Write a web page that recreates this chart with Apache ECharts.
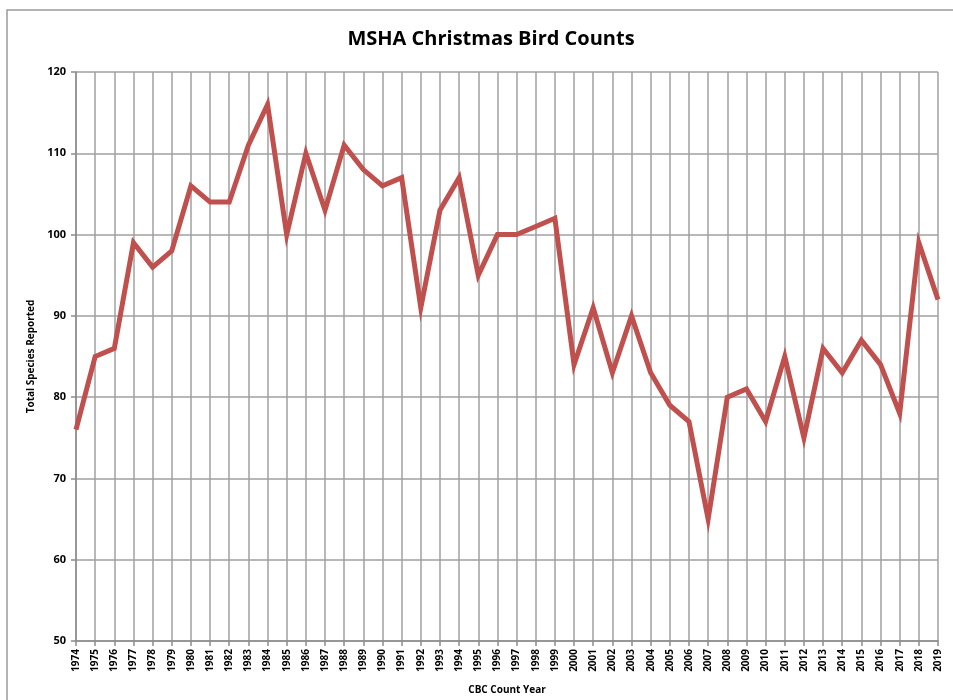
<!DOCTYPE html>
<html><head><meta charset="utf-8">
<script src="https://cdn.jsdelivr.net/npm/echarts@6/dist/echarts.min.js"></script>
<style>html,body{margin:0;padding:0;background:#fff}#c{width:953px;height:700px}</style>
</head><body><div id="c"></div>
<script>
const years = ['1974','1975','1976','1977','1978','1979','1980','1981','1982','1983','1984','1985','1986','1987','1988','1989','1990','1991','1992','1993','1994','1995','1996','1997','1998','1999','2000','2001','2002','2003','2004','2005','2006','2007','2008','2009','2010','2011','2012','2013','2014','2015','2016','2017','2018','2019'];
const species = [76,85,86,99,96,98,106,104,104,111,116,100,110,103,111,108,106,107,91,103,107,95,100,100,101,102,84,91,83,90,83,79,77,65,80,81,77,85,75,86,83,87,84,78,99,92];
const title = 'MSHA Christmas Bird Counts';
const yName = 'Total Species Reported';
const xName = 'CBC Count Year';

const chart = echarts.init(document.getElementById('c'), null, {renderer:'canvas'});
const font = '"Open Sans", "Liberation Sans", sans-serif';
chart.setOption({
  animation:false,
  backgroundColor:'#fff',
  graphic:[{type:'rect', shape:{x:7,y:10,width:960,height:700}, style:{fill:'none', stroke:'#9a9a9a', lineWidth:1.5}, z:-1}],
  title:{text:title, left:486, top:24, textAlign:'center',
    textStyle:{fontFamily:font, fontWeight:'bold', fontSize:20, color:'#000'}},
  grid:{left:76, right:15, top:72, bottom:56, containLabel:false},
  xAxis:{type:'category', data:years, boundaryGap:false,
    name:xName, nameLocation:'middle', nameGap:44,
    nameTextStyle:{fontFamily:font, fontWeight:'bold', fontSize:10, color:'#000'},
    axisLine:{lineStyle:{color:'#8c8c8c', width:1.5}},
    axisTick:{show:true, length:5, alignWithLabel:true, lineStyle:{color:'#8c8c8c', width:1.5}},
    axisLabel:{rotate:90, interval:0, fontFamily:font, fontWeight:'bold', fontSize:10, color:'#000', margin:8},
    splitLine:{show:true, lineStyle:{color:'#a0a0a0', width:1.5}}},
  yAxis:{type:'value', min:50, max:120, interval:10,
    name:yName, nameLocation:'middle', nameGap:40, nameRotate:90,
    nameTextStyle:{fontFamily:font, fontWeight:'bold', fontSize:10, color:'#000'},
    axisLine:{show:true, lineStyle:{color:'#8c8c8c', width:1.5}},
    axisTick:{show:true, length:5, lineStyle:{color:'#8c8c8c', width:1.5}},
    axisLabel:{fontFamily:font, fontWeight:'bold', fontSize:11, color:'#000', margin:10},
    splitLine:{show:true, lineStyle:{color:'#a0a0a0', width:1.5}}},
  series:[{type:'line', data:species, symbol:'none', lineStyle:{color:'#C0504D', width:5, join:'miter'}, itemStyle:{color:'#C0504D'}}]
});
</script>
</body></html>
